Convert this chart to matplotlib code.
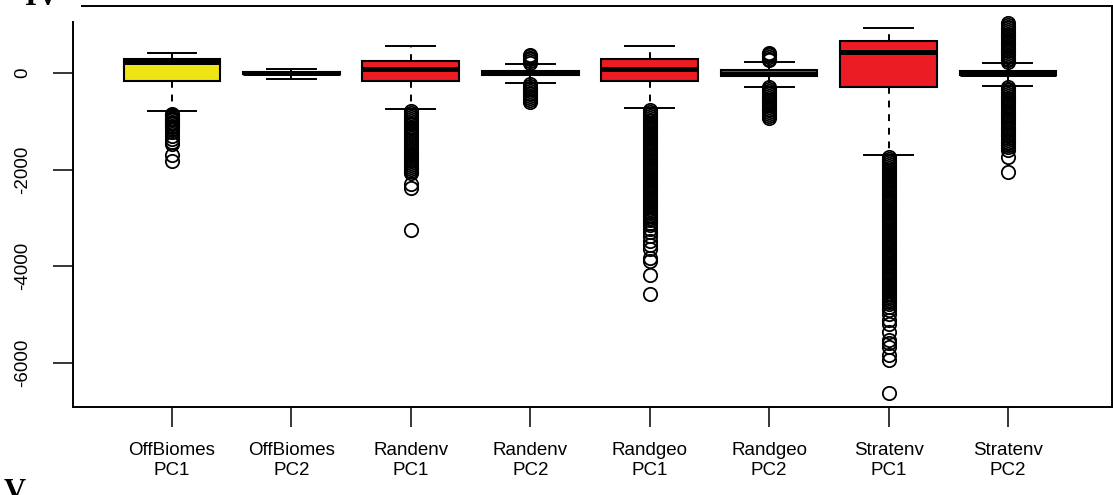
import matplotlib
matplotlib.use("Agg")
import matplotlib.pyplot as plt
from matplotlib.patches import Rectangle

plt.rcParams['font.family'] = ['Liberation Sans', 'DejaVu Sans']

# Groups shown on the x axis
groups = ["OffBiomes\nPC1", "OffBiomes\nPC2", "Randenv\nPC1", "Randenv\nPC2",
          "Randgeo\nPC1", "Randgeo\nPC2", "Stratenv\nPC1", "Stratenv\nPC2"]

# Five-number summaries per group
whisker_low = [-790, -120, -750, -200, -730, -284, -1700, -263]
quart_low = [-165, -25, -165, -45, -160, -55, -284, -50]
medians = [235, 0, 80, 0, 90, -10, 431, -10]
quart_high = [285, 25, 255, 45, 284, 55, 670, 50]
whisker_high = [410, 85, 560, 180, 566, 234, 926, 200]

fill_colors = ["#ede614", "#ede614", "#ec1c24", "#ec1c24",
               "#ec1c24", "#ec1c24", "#ec1c24", "#ec1c24"]

# Outlying values per group
out_offbiomes_pc1 = [-845, -870, -900, -925, -955, -980, -1010, -1035, -1065,
                     -1090, -1120, -1160, -1225, -1300, -1370, -1420, -1470,
                     -1690, -1820]
out_offbiomes_pc2 = []
out_randenv_pc1 = [-790, -830, -868, -910, -948, -990, -1030, -1066, -1110,
                   -1148, -1190, -1228, -1270, -1310, -1348, -1390, -1430,
                   -1466, -1510, -1550, -1588, -1630, -1670, -1708, -1750,
                   -1790, -1828, -1870, -1910, -1948, -1990, -2030, -2073,
                   -2290, -2383, -3254]
out_randenv_pc2 = [215, 250, 285, 320, 350, 377,
                   -235, -270, -305, -340, -375, -410, -445, -480, -515,
                   -550, -597]
out_randgeo_pc1 = [-775, -815, -850, -890, -925, -965, -1000, -1040, -1080,
                   -1115, -1155, -1190, -1230, -1265, -1305, -1345, -1380,
                   -1420, -1455, -1495, -1530, -1570, -1610, -1645, -1685,
                   -1720, -1760, -1795, -1835, -1875, -1910, -1950, -1985,
                   -2025, -2060, -2100, -2140, -2175, -2215, -2250, -2290,
                   -2325, -2365, -2405, -2440, -2480, -2515, -2555, -2590,
                   -2630, -2670, -2705, -2745, -2780, -2820, -2855, -2895,
                   -2935, -2970, -3010, -3050, -3100, -3160, -3230, -3300,
                   -3380, -3480, -3565, -3650, -3840, -3900, -4190, -4570]
out_randgeo_pc2 = [262, 300, 340, 375, 400, 425,
                   -300, -335, -370, -410, -445, -480, -520, -555, -590,
                   -630, -665, -700, -740, -775, -810, -850, -885, -922]
out_stratenv_pc1 = [-1740, -1775, -1815, -1850, -1890, -1930, -1965, -2005,
                    -2040, -2080, -2120, -2155, -2195, -2230, -2270, -2310,
                    -2345, -2385, -2420, -2460, -2500, -2535, -2575, -2610,
                    -2650, -2690, -2725, -2765, -2800, -2840, -2880, -2915,
                    -2955, -2990, -3030, -3070, -3105, -3145, -3180, -3220,
                    -3260, -3295, -3335, -3370, -3410, -3450, -3485, -3525,
                    -3560, -3600, -3640, -3675, -3715, -3750, -3790, -3830,
                    -3865, -3905, -3940, -3980, -4020, -4055, -4095, -4130,
                    -4170, -4210, -4245, -4285, -4320, -4360, -4400, -4435,
                    -4475, -4510, -4550, -4590, -4625, -4665, -4700, -4740,
                    -4790, -4850, -4920, -4990, -5120, -5200, -5360, -5530,
                    -5600, -5670, -5845, -5950, -6635]
out_stratenv_pc2 = [230, 265, 300, 340, 375, 410, 450, 485, 520, 560, 595,
                    630, 670, 705, 740, 780, 815, 850, 890, 925, 960, 1000,
                    1047,
                    -290, -325, -360, -400, -435, -470, -510, -545, -580,
                    -620, -655, -690, -730, -765, -800, -840, -875, -910,
                    -950, -985, -1020, -1060, -1095, -1130, -1170, -1205,
                    -1240, -1280, -1315, -1350, -1390, -1425, -1460, -1500,
                    -1540, -1600, -1735, -2050]

outliers = [out_offbiomes_pc1, out_offbiomes_pc2, out_randenv_pc1,
            out_randenv_pc2, out_randgeo_pc1, out_randgeo_pc2,
            out_stratenv_pc1, out_stratenv_pc2]

y_ticks = [-6000, -4000, -2000, 0]

stats = []
for i in range(len(groups)):
    stats.append(dict(label=groups[i], med=medians[i], q1=quart_low[i],
                      q3=quart_high[i], whislo=whisker_low[i],
                      whishi=whisker_high[i], fliers=outliers[i]))

W, H = 1113, 495
fig = plt.figure(figsize=(W / 100, H / 100), dpi=100)
ax = fig.add_axes([73 / W, 1 - 407 / H, 1039 / W, 401 / H])

positions = list(range(1, len(groups) + 1))
bp = ax.bxp(stats, positions=positions, widths=0.81, capwidths=0.41,
            patch_artist=True,
            boxprops=dict(edgecolor='black', linewidth=1.5),
            medianprops=dict(color='black', linewidth=3.6,
                             solid_capstyle='butt'),
            whiskerprops=dict(color='black', linewidth=1.4,
                              linestyle=(0, (3.5, 3.5))),
            capprops=dict(color='black', linewidth=1.4),
            flierprops=dict(marker='o', markersize=9.6,
                            markerfacecolor='none', markeredgecolor='black',
                            markeredgewidth=1.3, linestyle='none'))
for patch, c in zip(bp['boxes'], fill_colors):
    patch.set_facecolor(c)

ax.set_xlim(0.171, 8.871)
ax.set_ylim(-6922, 1389)
ax.set_xticks(positions)
ax.set_xticklabels(groups, linespacing=1.25)
ax.set_yticks(y_ticks)
ax.set_yticklabels([str(v) for v in y_ticks])

for side in ['left', 'right', 'top', 'bottom']:
    ax.spines[side].set_linewidth(1.4)

ax.tick_params(axis='both', length=14.4, width=1.1, labelsize=13.5,
               colors='black')
ax.tick_params(axis='x', pad=10.5)
ax.tick_params(axis='y', pad=16)
for lab in ax.get_yticklabels():
    lab.set_rotation(90)
    lab.set_va('center')
    lab.set_ha('right')

# Panel corner blank and panel letters
fig.add_artist(Rectangle((0, 1 - 21 / H), 81 / W, 21 / H,
                         transform=fig.transFigure, facecolor='white',
                         edgecolor='none', zorder=5))
fig.text(25 / W, 1 - 5 / H, "IV", fontfamily='Liberation Serif',
         fontweight='bold', fontsize=22, va='baseline', ha='left', zorder=10)
fig.text(4 / W, 1 - 500 / H, "V", fontfamily='Liberation Serif',
         fontweight='bold', fontsize=22, va='baseline', ha='left', zorder=10)

fig.savefig("out.png", dpi=100)
